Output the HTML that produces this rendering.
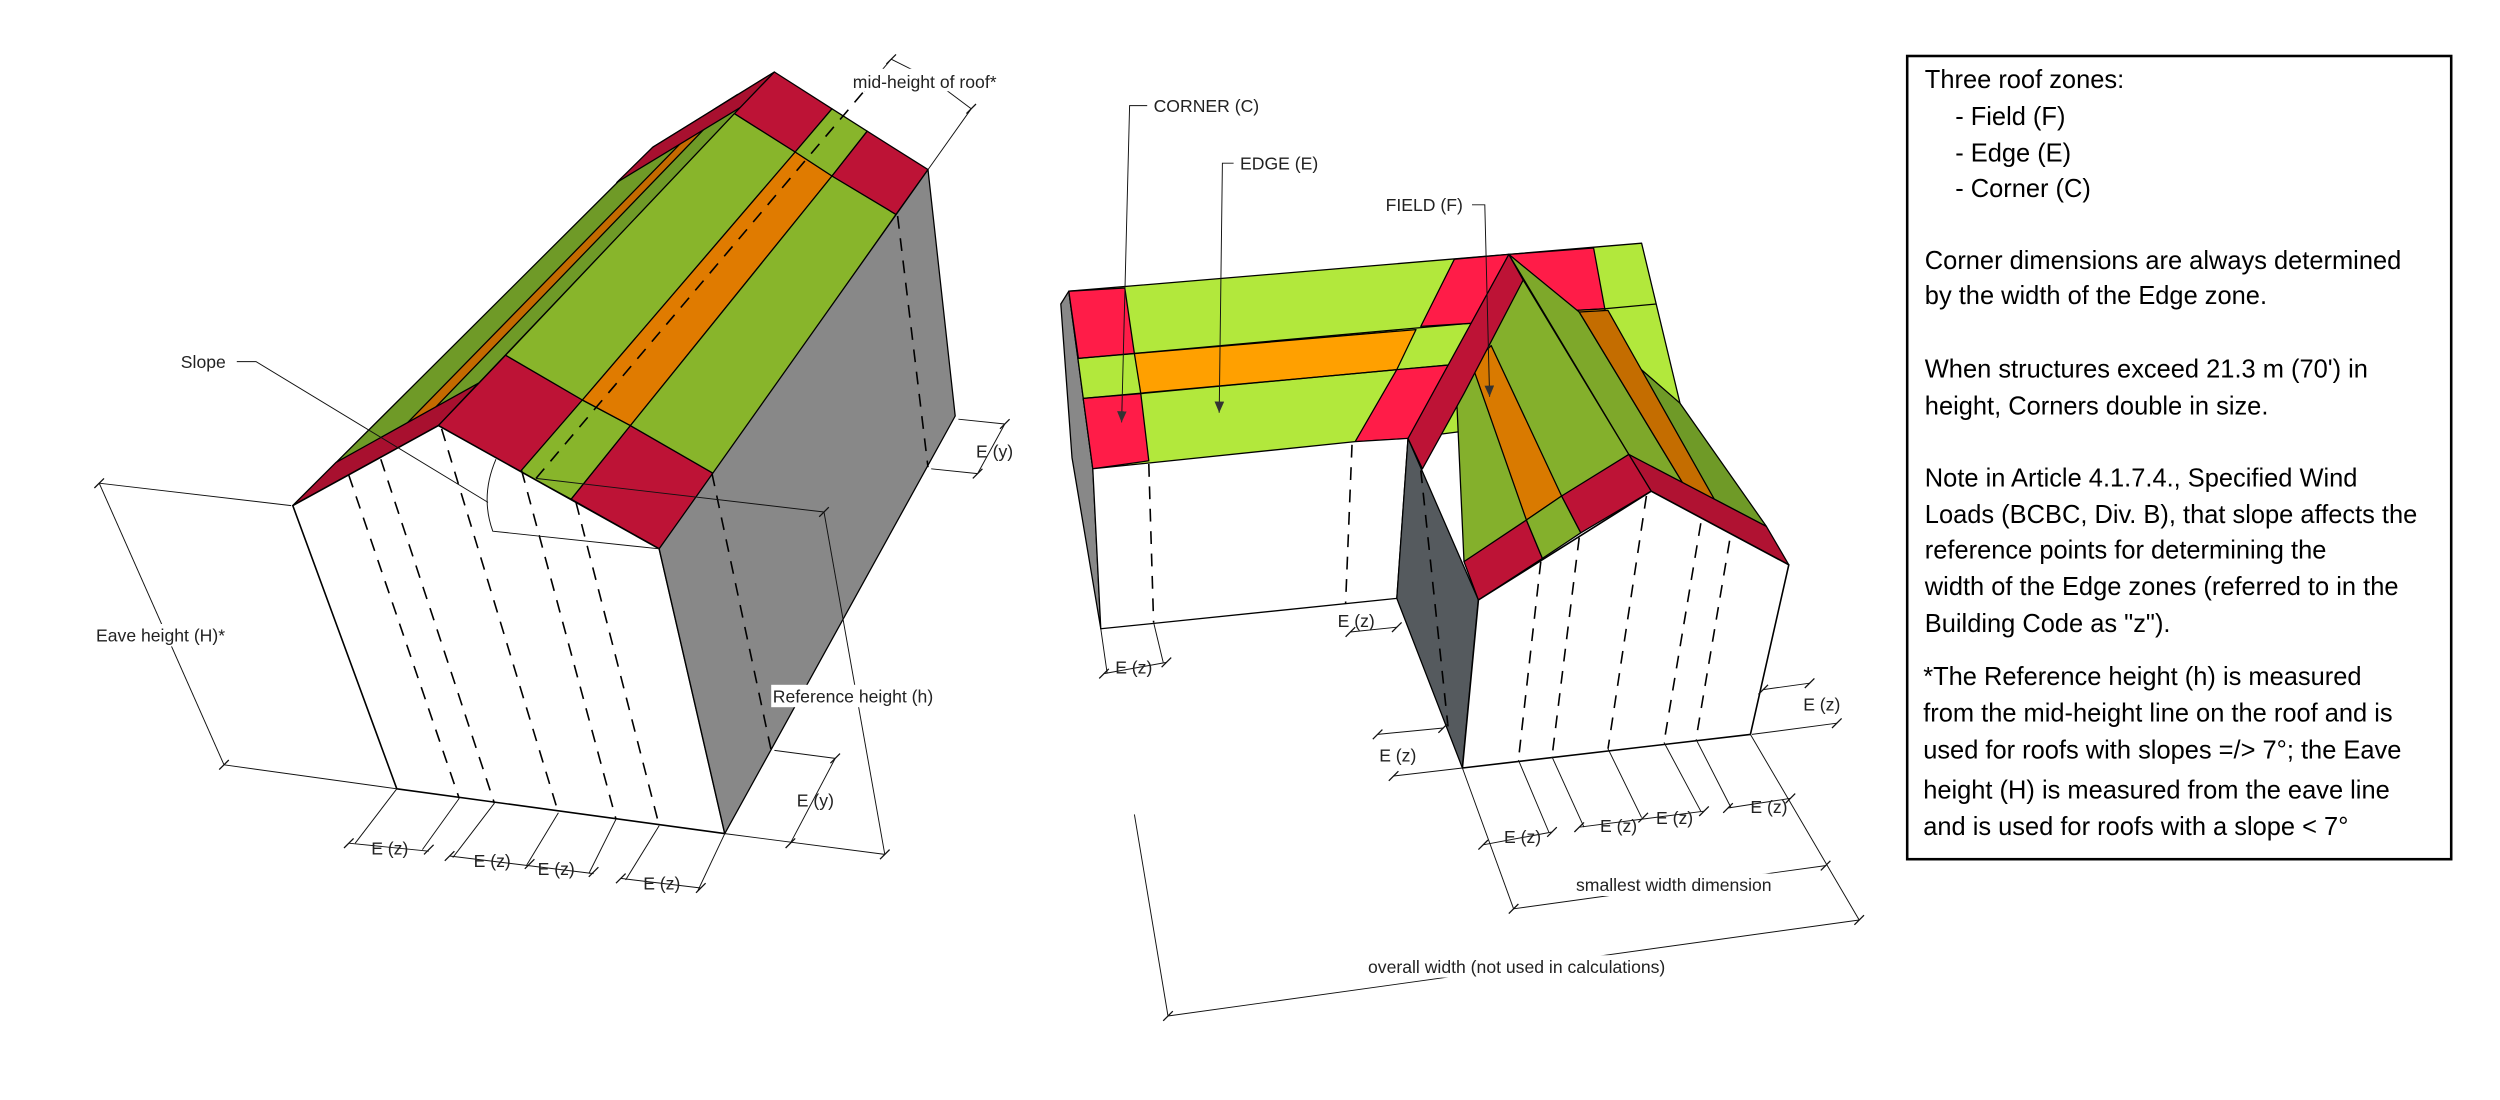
<!DOCTYPE html>
<html><head><meta charset="utf-8"><style>
html,body{margin:0;padding:0;background:#fff;}
svg{display:block}
text{font-family:"Liberation Sans",sans-serif;fill:#222;}
.l{font-size:11px;}
.b{font-size:15.9px;fill:#000;}
</style></head><body>
<svg width="2500" height="1100" viewBox="0 0 1562.5 687.5" xmlns="http://www.w3.org/2000/svg">
<defs><marker id="ar" markerWidth="8" markerHeight="6" refX="7" refY="3" orient="auto" markerUnits="userSpaceOnUse"><path d="M0,0 L7,3 L0,6 Z" fill="#333"/></marker></defs>
<rect width="1562.5" height="687.5" fill="#fff"/>

<!-- LEFT BUILDING -->
<g stroke="#000" stroke-width="0.8" stroke-linejoin="round">
<polygon points="274,266 484,45 408,92 183,316" fill="#6f9a27"/>
<polygon points="246.7,281 461,59 446,68.5 228.5,291" fill="#c46a00"/>
<polygon points="274,266 299,239.5 210,289 183,316" fill="#a8102f"/>
<polygon points="463,67 484,45 408,92 385.5,114" fill="#a8102f"/>
<polygon points="274,266 316,222 364,250 325,295" fill="#bd1336"/>
<polygon points="325,295 364,250 394,266 357,312" fill="#88b52b"/>
<polygon points="357,312 394,266 446,296 412,343" fill="#bd1336"/>
<polygon points="316,222 459,71 497,95 364,250" fill="#88b52b"/>
<polygon points="364,250 497,95 520,110 394,266" fill="#e07b00"/>
<polygon points="394,266 520,110 560,134 446,296" fill="#88b52b"/>
<polygon points="459,71 484,45 520,68 497,95" fill="#bd1336"/>
<polygon points="497,95 520,68 542,82 520,110" fill="#88b52b"/>
<polygon points="520,110 542,82 580,106 560,134" fill="#bd1336"/>
<polygon points="183,316 274,266 412,343 453,521 248,493" fill="#fff" stroke-width="1"/>
<polygon points="412,343 580,106 597,260 453,521" fill="#888"/>
</g>
<g stroke="#000" stroke-width="1" stroke-dasharray="8,6" fill="none">
<line x1="218" y1="297" x2="287" y2="499"/>
<line x1="238" y1="287" x2="309" y2="502"/>
<line x1="276" y1="268" x2="349" y2="508"/>
<line x1="326" y1="294" x2="385" y2="512"/>
<line x1="360" y1="314" x2="412" y2="516"/>
<line x1="445" y1="296" x2="482" y2="469"/>
<line x1="561" y1="135" x2="580" y2="292"/>
<line x1="335" y1="299" x2="540" y2="57"/>
</g>
<g stroke="#111" stroke-width="0.6" fill="none">
<path d="M310,287 Q300,310 308,332 L412,343"/>
<polyline points="148,226 160,226 305,314"/>
<line x1="62" y1="302" x2="182" y2="316"/>
<line x1="140" y1="478" x2="248" y2="493"/>
<line x1="62" y1="302" x2="140" y2="478"/>
<line x1="453" y1="521" x2="553" y2="534"/>
<line x1="248" y1="493" x2="222" y2="527"/>
<line x1="287" y1="499" x2="264" y2="531"/>
<line x1="309" y1="502" x2="283" y2="536"/>
<line x1="349" y1="508" x2="329" y2="541"/>
<line x1="385" y1="512" x2="368" y2="546"/>
<line x1="412" y1="516" x2="391" y2="550"/>
<line x1="453" y1="521" x2="436" y2="557"/>
<line x1="218" y1="527" x2="268" y2="532"/>
<line x1="281" y1="535" x2="371" y2="546"/>
<line x1="388" y1="549" x2="438" y2="555"/>
<line x1="335" y1="299" x2="515" y2="320"/>
<line x1="515" y1="320" x2="553" y2="534"/>
<line x1="484" y1="469" x2="522" y2="474"/>
<line x1="522" y1="474" x2="494" y2="527"/>
<line x1="599" y1="262" x2="628" y2="265"/>
<line x1="582" y1="293" x2="611" y2="296"/>
<line x1="628" y1="265" x2="611" y2="296"/>
<line x1="540" y1="57" x2="557" y2="37"/>
<line x1="557" y1="37" x2="583" y2="50"/>
<line x1="580" y1="106" x2="607" y2="68"/>
<line x1="583" y1="50" x2="607" y2="68"/>
</g>
<g stroke="#111" stroke-width="0.8">
<path d="M59,305l6,-6M137,481l6,-6M215,530l6,-6M265,534l6,-6M278,538l6,-6M328,543l6,-6M368,548l6,-6M385,552l6,-6M435,558l6,-6M512,323l6,-6M550,537l6,-6M519,477l6,-6M491,530l6,-6M625,268l6,-6M608,299l6,-6M554,40l6,-6M604,71l6,-6"/>
</g>
<rect x="58" y="390" width="92" height="14" fill="#fff"/>
<text class="l" x="60" y="401">Eave height (H)*</text>
<text class="l" x="113" y="230">Slope</text>
<rect x="482" y="428" width="108" height="14" fill="#fff"/>
<text class="l" x="483" y="439">Reference height (h)</text>
<text class="l" x="498" y="504">E (y)</text>
<text class="l" x="610" y="286">E (y)</text>
<rect x="532" y="43" width="102" height="14" fill="#fff"/>
<text class="l" x="533" y="55">mid-height of roof*</text>
<text class="l" x="232" y="534">E (z)</text>
<text class="l" x="296" y="542">E (z)</text>
<text class="l" x="336" y="547">E (z)</text>
<text class="l" x="402" y="556">E (z)</text>

<!-- RIGHT BUILDING -->
<g stroke="#000" stroke-width="0.8" stroke-linejoin="round">
<polygon points="663,190 668,182 683,293 688,393 670,286" fill="#888"/>
<polygon points="668,182 1026,152 1050,252 880,274 683,293" fill="#b2e83c"/>
<polygon points="668,182 703,180 709,221 674,224" fill="#ff1c48"/>
<polygon points="677,249 713,246 718,288 683,293" fill="#ff1c48"/>
<polygon points="709,221 885,206 873,231 713,246" fill="#ffa000"/>
<line x1="674" y1="224" x2="919" y2="202"/>
<line x1="677" y1="249" x2="907" y2="228"/>
<polygon points="909,162 943,159 921,202 888,204" fill="#ff1c48"/>
<polygon points="873,231 907,228 882,274 847,276" fill="#ff1c48"/>
<polygon points="943,159 996,155 1003,193 985,194" fill="#ff1c48"/>
<polygon points="985,194 1003,193 1008,214 990,214" fill="#ffa000"/>
<line x1="1003" y1="193" x2="1035" y2="190"/>
<polygon points="683,293 847,276 880,274 873,374 688,393" fill="#fff"/>
<polygon points="880,274 924,375 914,480 873,374" fill="#555a5e"/>
<polygon points="943,159 1018,284 1104,329 1050,252" fill="#6f9a27"/>
<polygon points="943,159 987,195 1053,304 1018,284" fill="#7ea82a"/>
<polygon points="987,195 1005,194 1072,313 1053,304" fill="#c46d00"/>
<polygon points="1018,284 1104,329 1118,353 1032,307" fill="#b01232"/>
<polygon points="910,240 952,175 1018,284 915,351" fill="#84b02c"/>
<polygon points="920,228 932,216 976,310 954,325" fill="#d97a00"/>
<polygon points="880,274 943,159 952,175 915,246 889,293" fill="#bd1336"/>
<polygon points="915,351 954,325 964,349 924,375" fill="#bd1336"/>
<polygon points="954,325 976,310 988,333 964,349" fill="#84b02c"/>
<polygon points="976,310 1018,284 1032,307 988,333" fill="#bd1336"/>
<polygon points="924,375 1032,307 1118,353 1094,459 914,480" fill="#fff" stroke-width="1"/>
</g>
<g stroke="#000" stroke-width="1" stroke-dasharray="8,6" fill="none">
<line x1="963" y1="351" x2="949" y2="475"/>
<line x1="987" y1="336" x2="970" y2="473"/>
<line x1="1029" y1="310" x2="1005" y2="468"/>
<line x1="1063" y1="327" x2="1040" y2="464"/>
<line x1="1081" y1="338" x2="1060" y2="462"/>
<line x1="888" y1="294" x2="905" y2="454"/>
<line x1="718" y1="290" x2="721" y2="389"/>
<line x1="845" y1="278" x2="841" y2="377"/>
</g>
<g stroke="#111" stroke-width="0.6" fill="none">
<line x1="688" y1="393" x2="692" y2="421"/>
<line x1="721" y1="389" x2="727" y2="414"/>
<line x1="690" y1="421" x2="729" y2="414"/>
<line x1="844" y1="395" x2="873" y2="392"/>
<line x1="861" y1="459" x2="902" y2="455"/>
<line x1="871" y1="485" x2="914" y2="480"/>
<line x1="1102" y1="431" x2="1131" y2="427"/>
<line x1="1095" y1="459" x2="1148" y2="452"/>
<line x1="914" y1="480" x2="946" y2="568"/>
<line x1="949" y1="475" x2="968" y2="520"/>
<line x1="970" y1="473" x2="990" y2="517"/>
<line x1="1005" y1="468" x2="1026" y2="511"/>
<line x1="1040" y1="464" x2="1063" y2="507"/>
<line x1="1060" y1="462" x2="1082" y2="505"/>
<line x1="1094" y1="459" x2="1162" y2="575"/>
<line x1="927" y1="528" x2="970" y2="520"/>
<line x1="987" y1="517" x2="1065" y2="507"/>
<line x1="1080" y1="505" x2="1119" y2="499"/>
<line x1="946" y1="568" x2="1141" y2="541"/>
<line x1="709" y1="509" x2="730" y2="635"/>
<line x1="730" y1="635" x2="1162" y2="575"/>
<polyline points="717,66 706,66 701,264" marker-end="url(#ar)"/>
<polyline points="771,102 764,102 762,258" marker-end="url(#ar)"/>
<polyline points="920,128 928,128 931,248" marker-end="url(#ar)"/>
</g>
<g stroke="#111" stroke-width="0.8">
<path d="M687,424l6,-6M726,417l6,-6M841,398l6,-6M870,395l6,-6M858,462l6,-6M899,458l6,-6M868,488l6,-6M1099,434l6,-6M1128,430l6,-6M1145,455l6,-6M924,531l6,-6M967,523l6,-6M984,520l6,-6M1024,514l6,-6M1062,510l6,-6M1077,508l6,-6M1116,502l6,-6M943,571l6,-6M1138,544l6,-6M727,638l6,-6M1159,578l6,-6"/>
</g>
<rect x="984" y="546" width="130" height="14" fill="#fff"/>
<text class="l" x="985" y="557">smallest width dimension</text>
<rect x="853" y="597" width="200" height="14" fill="#fff"/>
<text class="l" x="855" y="608">overall width (not used in calculations)</text>
<text class="l" x="697" y="421">E (z)</text>
<text class="l" x="836" y="392">E (z)</text>
<text class="l" x="862" y="476">E (z)</text>
<text class="l" x="1127" y="444">E (z)</text>
<text class="l" x="940" y="527">E (z)</text>
<text class="l" x="1000" y="520">E (z)</text>
<text class="l" x="1035" y="515">E (z)</text>
<text class="l" x="1094" y="508">E (z)</text>
<text class="l" x="721" y="70">CORNER (C)</text>
<text class="l" x="775" y="106">EDGE (E)</text>
<text class="l" x="866" y="132">FIELD (F)</text>

<rect x="1192" y="35" width="340" height="502" fill="#fff" stroke="#000" stroke-width="1.6"/>
<text class="b" x="1203" y="55">Three roof zones:</text>
<text class="b" x="1222" y="78">- Field (F)</text>
<text class="b" x="1222" y="101">- Edge (E)</text>
<text class="b" x="1222" y="123">- Corner (C)</text>
<text class="b" x="1203" y="168">Corner dimensions are always determined</text>
<text class="b" x="1203" y="190">by the width of the Edge zone.</text>
<text class="b" x="1203" y="236">When structures exceed 21.3 m (70') in</text>
<text class="b" x="1203" y="259">height, Corners double in size.</text>
<text class="b" x="1203" y="304">Note in Article 4.1.7.4., Specified Wind</text>
<text class="b" x="1203" y="327">Loads (BCBC, Div. B), that slope affects the</text>
<text class="b" x="1203" y="349">reference points for determining the</text>
<text class="b" x="1203" y="372">width of the Edge zones (referred to in the</text>
<text class="b" x="1203" y="395">Building Code as "z").</text>
<text class="b" x="1202" y="428">*The Reference height (h) is measured</text>
<text class="b" x="1202" y="451">from the mid-height line on the roof and is</text>
<text class="b" x="1202" y="474">used for roofs with slopes =/&gt; 7°; the Eave</text>
<text class="b" x="1202" y="499">height (H) is measured from the eave line</text>
<text class="b" x="1202" y="522">and is used for roofs with a slope &lt; 7°</text>
</svg>
</body></html>
